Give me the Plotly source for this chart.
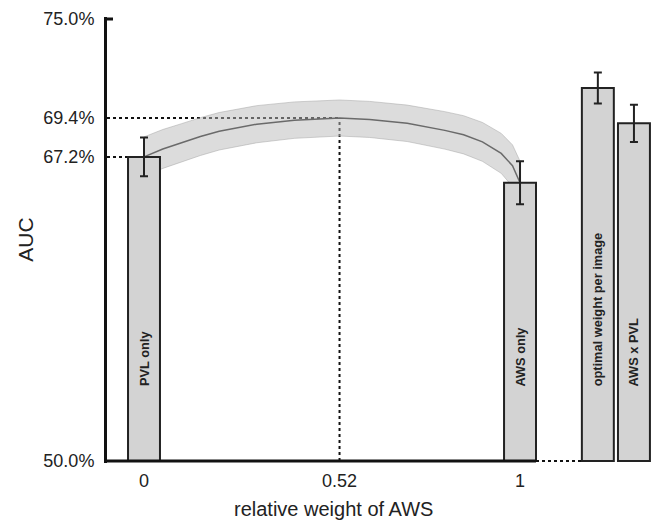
import plotly.graph_objects as go

# ---- data ----
weights = [0.0, 0.05, 0.1, 0.15, 0.2, 0.3, 0.4, 0.52, 0.6, 0.7, 0.8, 0.85, 0.9, 0.95, 0.98, 1.0]
auc_curve = [67.2, 67.65, 68.0, 68.35, 68.65, 69.05, 69.28, 69.4, 69.32, 69.1, 68.7, 68.45, 68.05, 67.4, 66.7, 65.74]
ci_half = [1.13, 1.1, 1.08, 1.07, 1.06, 1.05, 1.03, 1.02, 1.02, 1.03, 1.06, 1.08, 1.1, 1.13, 1.18, 1.22]

bar_labels = ["PVL only", "AWS only", "optimal weight per image", "AWS x PVL"]
bar_x = [0.0, 1.0, 1.207, 1.303]
bar_auc = [67.2, 65.74, 71.1, 69.1]
bar_err = [1.1, 1.22, 0.88, 1.05]

y_ticks = [50.0, 67.2, 69.4, 75.0]
y_ticktext = ["50.0%", "67.2%", "69.4%", "75.0%"]
x_ticks = [0, 0.52, 1]
x_ticktext = ["0", "0.52", "1"]
best_w = 0.52
best_auc = 69.4

BASE = 50.0
BW = 0.085
FONT = "Liberation Sans, Arial, sans-serif"
XR = [-0.0984, 1.351]
YR = [49.887, 75.113]

upper = [a + c for a, c in zip(auc_curve, ci_half)]
lower = [a - c for a, c in zip(auc_curve, ci_half)]

fig = go.Figure()
fig.add_trace(go.Scatter(
    x=weights + weights[::-1], y=upper + lower[::-1], fill="toself",
    fillcolor="rgba(185,185,185,0.5)", line=dict(color="rgba(160,160,160,0.6)", width=0.8),
    mode="lines", hoverinfo="skip", showlegend=False, xaxis="x", yaxis="y"))
fig.add_trace(go.Scatter(
    x=weights, y=auc_curve, mode="lines", line=dict(color="#6a6a6a", width=1.5),
    showlegend=False, xaxis="x", yaxis="y"))
fig.add_trace(go.Bar(
    x=bar_x, y=[v - BASE for v in bar_auc], base=BASE, width=BW,
    marker=dict(color="#d3d3d3", line=dict(color="#222222", width=2)),
    error_y=dict(type="data", array=bar_err, color="#222222", thickness=2, width=4),
    showlegend=False, xaxis="x2", yaxis="y2"))

shapes = [
    dict(type="line", xref="x", yref="y", x0=XR[0], x1=bar_x[1] + BW / 2, y0=BASE, y1=BASE,
         line=dict(color="#111111", width=3), layer="above"),
    dict(type="line", xref="x", yref="y", x0=bar_x[1] + BW / 2, x1=bar_x[2] - BW / 2, y0=BASE, y1=BASE,
         line=dict(color="#111111", width=2, dash="dot"), layer="above"),
    dict(type="line", xref="x", yref="y", x0=XR[0], x1=best_w, y0=best_auc, y1=best_auc,
         line=dict(color="#111111", width=2, dash="dot"), layer="below"),
    dict(type="line", xref="x", yref="y", x0=best_w, x1=best_w, y0=BASE, y1=best_auc,
         line=dict(color="#111111", width=2, dash="dot"), layer="below"),
    dict(type="line", xref="x", yref="y", x0=XR[0], x1=bar_x[0], y0=bar_auc[0], y1=bar_auc[0],
         line=dict(color="#111111", width=2, dash="dot"), layer="below"),
    dict(type="line", xref="x", yref="y", x0=XR[0], x1=XR[0] + 0.016, y0=75, y1=75,
         line=dict(color="#111111", width=3), layer="above"),
]

annotations = []
for lbl, xv in zip(bar_labels, bar_x):
    annotations.append(dict(x=xv, y=54.1, xref="x", yref="y", text=lbl, showarrow=False,
                            textangle=-90, xanchor="center", yanchor="bottom",
                            font=dict(family=FONT, size=12.8, color="#222222", weight="bold")))
annotations.append(dict(x=0.503, y=-0.103, xref="x", yref="paper", text="relative weight of AWS",
                        showarrow=False, xanchor="center", yanchor="middle",
                        font=dict(family=FONT, size=20, color="#222222")))
annotations.append(dict(x=-0.151, y=0.5, xref="paper", yref="paper", text="AUC",
                        showarrow=False, textangle=-90, xanchor="center", yanchor="middle",
                        font=dict(family=FONT, size=21, color="#222222")))

fig.update_layout(
    width=652, height=522, margin=dict(l=107, r=0, t=17, b=59),
    paper_bgcolor="white", plot_bgcolor="white",
    font=dict(family=FONT, color="#222222"),
    xaxis=dict(range=XR, tickvals=x_ticks, ticktext=x_ticktext, showgrid=False, zeroline=False,
               showline=False, ticks="", tickfont=dict(size=18, family=FONT, color="#222222"),
               ticklabelstandoff=5),
    yaxis=dict(range=YR, tickvals=y_ticks, ticktext=y_ticktext, showgrid=False, zeroline=False,
               showline=True, linecolor="#111111", linewidth=3, ticks="",
               tickfont=dict(size=18, family=FONT, color="#222222"), ticklabelstandoff=6),
    xaxis2=dict(range=XR, overlaying="x", visible=False),
    yaxis2=dict(range=YR, overlaying="y", visible=False),
    shapes=shapes, annotations=annotations, showlegend=False,
)

fig.write_html(
    "out.html",
    config={"displayModeBar": False},
    post_script="document.body.style.margin='0';document.body.style.overflow='hidden';",
)
